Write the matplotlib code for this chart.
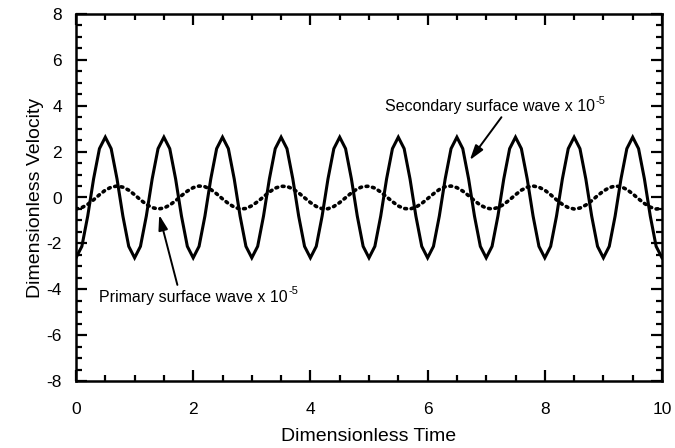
import matplotlib
matplotlib.use("Agg")
import matplotlib.pyplot as plt
from matplotlib.ticker import MultipleLocator

plt.rcParams['font.family'] = ['Liberation Sans', 'DejaVu Sans']
plt.rcParams['axes.unicode_minus'] = False

time = [round(0.1 * i, 1) for i in range(101)]

secondary = [
    -2.63, -2.13, -0.81, 0.81, 2.13, 2.63, 2.13, 0.81, -0.81, -2.13,
    -2.63, -2.13, -0.81, 0.81, 2.13, 2.63, 2.13, 0.81, -0.81, -2.13,
    -2.63, -2.13, -0.81, 0.81, 2.13, 2.63, 2.13, 0.81, -0.81, -2.13,
    -2.63, -2.13, -0.81, 0.81, 2.13, 2.63, 2.13, 0.81, -0.81, -2.13,
    -2.63, -2.13, -0.81, 0.81, 2.13, 2.63, 2.13, 0.81, -0.81, -2.13,
    -2.63, -2.13, -0.81, 0.81, 2.13, 2.63, 2.13, 0.81, -0.81, -2.13,
    -2.63, -2.13, -0.81, 0.81, 2.13, 2.63, 2.13, 0.81, -0.81, -2.13,
    -2.63, -2.13, -0.81, 0.81, 2.13, 2.63, 2.13, 0.81, -0.81, -2.13,
    -2.63, -2.13, -0.81, 0.81, 2.13, 2.63, 2.13, 0.81, -0.81, -2.13,
    -2.63, -2.13, -0.81, 0.81, 2.13, 2.63, 2.13, 0.81, -0.81, -2.13,
    -2.63,
]

primary = [
    -0.50, -0.44, -0.30, -0.10, 0.12, 0.32, 0.45, 0.50, 0.45, 0.32,
    0.12, -0.10, -0.30, -0.44, -0.50, -0.46, -0.33, -0.14, 0.08, 0.28,
    0.43, 0.50, 0.47, 0.35, 0.16, -0.06, -0.26, -0.42, -0.50, -0.48,
    -0.36, -0.18, 0.03, 0.24, 0.41, 0.49, 0.48, 0.38, 0.20, -0.01,
    -0.22, -0.39, -0.49, -0.49, -0.39, -0.22, -0.01, 0.20, 0.38, 0.48,
    0.49, 0.41, 0.24, 0.03, -0.18, -0.37, -0.48, -0.50, -0.42, -0.26,
    -0.05, 0.16, 0.35, 0.47, 0.50, 0.43, 0.28, 0.08, -0.14, -0.33,
    -0.46, -0.50, -0.44, -0.30, -0.10, 0.12, 0.32, 0.45, 0.50, 0.45,
    0.32, 0.12, -0.10, -0.30, -0.44, -0.50, -0.46, -0.33, -0.14, 0.08,
    0.28, 0.43, 0.50, 0.47, 0.35, 0.16, -0.06, -0.26, -0.42, -0.50,
    -0.48,
]

x_label = "Dimensionless Time"
y_label = "Dimensionless Velocity"
secondary_label = "Secondary surface wave x 10"
primary_label = "Primary surface wave x 10"
exponent = "-5"

fig = plt.figure(figsize=(6.75, 4.48), dpi=100)
ax = fig.add_axes([76 / 675, 1 - 381 / 448, (662 - 76) / 675, (381 - 14) / 448])

ax.plot(time, secondary, color='black', linewidth=2.2, solid_joinstyle='miter')
ax.plot(time, primary, color='black', linewidth=2.6, linestyle=(0, (0.5, 1.3)),
        dash_capstyle='round')

ax.set_xlim(0, 10)
ax.set_ylim(-8, 8)
ax.xaxis.set_major_locator(MultipleLocator(2))
ax.xaxis.set_minor_locator(MultipleLocator(0.5))
ax.yaxis.set_major_locator(MultipleLocator(2))
ax.yaxis.set_minor_locator(MultipleLocator(0.5))
ax.tick_params(which='both', direction='in', top=True, right=True,
               width=1.6, labelsize=12.5)
ax.tick_params(axis='x', which='major', pad=15)
ax.tick_params(axis='y', which='major', pad=10)
ax.tick_params(which='major', length=8)
ax.tick_params(which='minor', length=4.5)
for s in ax.spines.values():
    s.set_linewidth(1.8)

ax.set_xlabel(x_label, fontsize=14, labelpad=8)
ax.set_ylabel(y_label, fontsize=14, labelpad=2)

arrow = dict(arrowstyle='-|>,head_length=0.9,head_width=0.28', color='black',
             linewidth=1.4, shrinkA=0, shrinkB=0)
ax.annotate("", xy=(6.72, 1.63), xytext=(7.26, 3.50), arrowprops=arrow)
ax.annotate("", xy=(1.42, -0.76), xytext=(1.73, -3.81), arrowprops=arrow)

for label, xpos, ypos in [(secondary_label, 5.27, 3.95), (primary_label, 0.40, -4.34)]:
    t = ax.text(xpos, ypos, label, fontsize=11.5, va='center', ha='left')
    ax.annotate(exponent, xy=(1.0, 0.5), xycoords=t, xytext=(0.5, 0.5),
                textcoords='offset points', fontsize=8, va='bottom', ha='left')

fig.savefig("out.png", dpi=100)
